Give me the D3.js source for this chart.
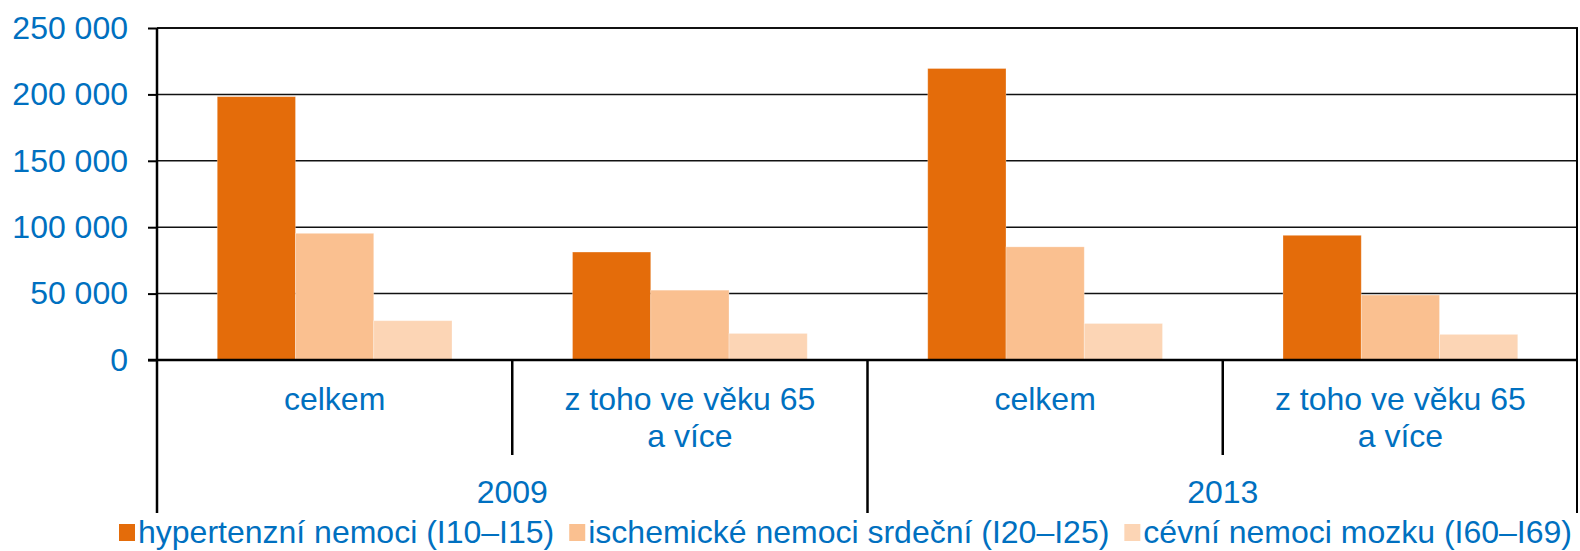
<!DOCTYPE html>
<html>
<head>
<meta charset="utf-8">
<script src="https://cdn.jsdelivr.net/npm/d3@7"></script>
<style>
  html, body { margin: 0; padding: 0; background: #fff; }
  svg { display: block; }
  text { font-family: "Liberation Sans", Arial, sans-serif; fill: #0070C0; }
</style>
</head>
<body>
<div id="chart"></div>
<script>
const years = ["2009", "2013"];
const categories = ["celkem", "z toho ve věku 65|a více"];
const seriesNames = ["hypertenzní nemoci (I10–I15)", "ischemické nemoci srdeční (I20–I25)", "cévní nemoci mozku (I60–I69)"];
const colors = ["#E46C0A", "#FAC090", "#FCD5B5"];
// values per group: 2009 celkem, 2009 65+, 2013 celkem, 2013 65+
const hypertenzni = [198300, 81300, 219500, 93900];
const ischemicke = [95400, 52600, 85200, 48900];
const cevni = [29600, 20000, 27500, 19300];
const yTicks = [0, 50000, 100000, 150000, 200000, 250000];

const series = [hypertenzni, ischemicke, cevni];
const groups = [];
years.forEach(y => categories.forEach(c => groups.push({ year: y, cat: c })));

const width = 1580, height = 551;
const plotLeft = 157, plotRight = 1578, plotTop = 28, plotBottom = 360;
const fontSize = 32;

const svg = d3.select("#chart").append("svg")
    .attr("width", width)
    .attr("height", height);

const y = d3.scaleLinear().domain([0, 250000]).range([plotBottom, plotTop]);
const x0 = d3.scaleBand().domain(d3.range(groups.length)).range([plotLeft, plotRight]).padding(0);
const x1 = d3.scaleBand().domain(d3.range(series.length)).range([0, x0.bandwidth()])
    .paddingInner(0).paddingOuter(0.77);

const fmt = d3.formatLocale({ decimal: ",", thousands: " ", grouping: [3], currency: ["", ""] }).format(",d");

// gridlines
svg.append("g")
    .selectAll("line")
    .data(yTicks.filter(t => t > 0 && t < 250000))
    .join("line")
    .attr("x1", plotLeft).attr("x2", plotRight)
    .attr("y1", d => y(d)).attr("y2", d => y(d))
    .attr("stroke", "#111").attr("stroke-width", 1.5);

// top and right border
svg.append("line").attr("x1", plotLeft).attr("x2", plotRight).attr("y1", plotTop).attr("y2", plotTop)
    .attr("stroke", "#111").attr("stroke-width", 2);
svg.append("line").attr("x1", plotRight - 1).attr("x2", plotRight - 1).attr("y1", plotTop).attr("y2", 513)
    .attr("stroke", "#000").attr("stroke-width", 2);

// bars
groups.forEach((g, gi) => {
    series.forEach((s, si) => {
        svg.append("rect")
            .attr("x", x0(gi) + x1(si))
            .attr("y", y(s[gi]))
            .attr("width", x1.bandwidth())
            .attr("height", y(0) - y(s[gi]))
            .attr("fill", colors[si])
            .attr("stroke", "#fff")
            .attr("stroke-opacity", 0.35)
            .attr("stroke-width", 0.8);
    });
});

// y axis
const yAxis = d3.axisLeft(y).tickValues(yTicks).tickSize(9).tickFormat(fmt);
const ya = svg.append("g").attr("transform", `translate(${plotLeft},0)`).call(yAxis);
ya.select(".domain").remove();
ya.selectAll(".tick line").attr("stroke", "#000").attr("stroke-width", 2);
ya.selectAll(".tick text")
    .attr("x", -29)
    .attr("font-size", fontSize)
    .attr("font-family", "Liberation Sans, Arial, sans-serif")
    .attr("fill", "#0070C0");

svg.append("line").attr("x1", plotLeft).attr("x2", plotLeft).attr("y1", plotTop).attr("y2", 513)
    .attr("stroke", "#000").attr("stroke-width", 2.5);

// zero line
svg.append("line").attr("x1", plotLeft - 9).attr("x2", plotRight).attr("y1", plotBottom).attr("y2", plotBottom)
    .attr("stroke", "#000").attr("stroke-width", 2.5);

// category separators
groups.forEach((g, gi) => {
    if (gi === 0) return;
    const xx = x0(gi);
    const long = gi % categories.length === 0;
    svg.append("line").attr("x1", xx).attr("x2", xx)
        .attr("y1", plotBottom).attr("y2", long ? 513 : 455)
        .attr("stroke", "#000").attr("stroke-width", 2.5);
});

// category labels
groups.forEach((g, gi) => {
    const cx = x0(gi) + x0.bandwidth() / 2;
    const lines = g.cat.split("|");
    const t = svg.append("text").attr("text-anchor", "middle").attr("font-size", fontSize);
    lines.forEach((l, li) => {
        t.append("tspan").attr("x", cx).attr("y", 410 + li * 37).text(l);
    });
});

// year labels
years.forEach((yr, yi) => {
    const cx = x0(yi * categories.length) + x0.bandwidth() * categories.length / 2;
    svg.append("text").attr("x", cx).attr("y", 503)
        .attr("text-anchor", "middle").attr("font-size", fontSize).text(yr);
});

// legend
let lx = 119;
seriesNames.forEach((name, i) => {
    svg.append("rect").attr("x", lx).attr("y", 524).attr("width", 16).attr("height", 17)
        .attr("fill", colors[i]);
    const t = svg.append("text").attr("x", lx + 19).attr("y", 543)
        .attr("font-size", fontSize).text(name);
    lx += 19 + t.node().getComputedTextLength() + 15;
});
</script>
</body>
</html>
